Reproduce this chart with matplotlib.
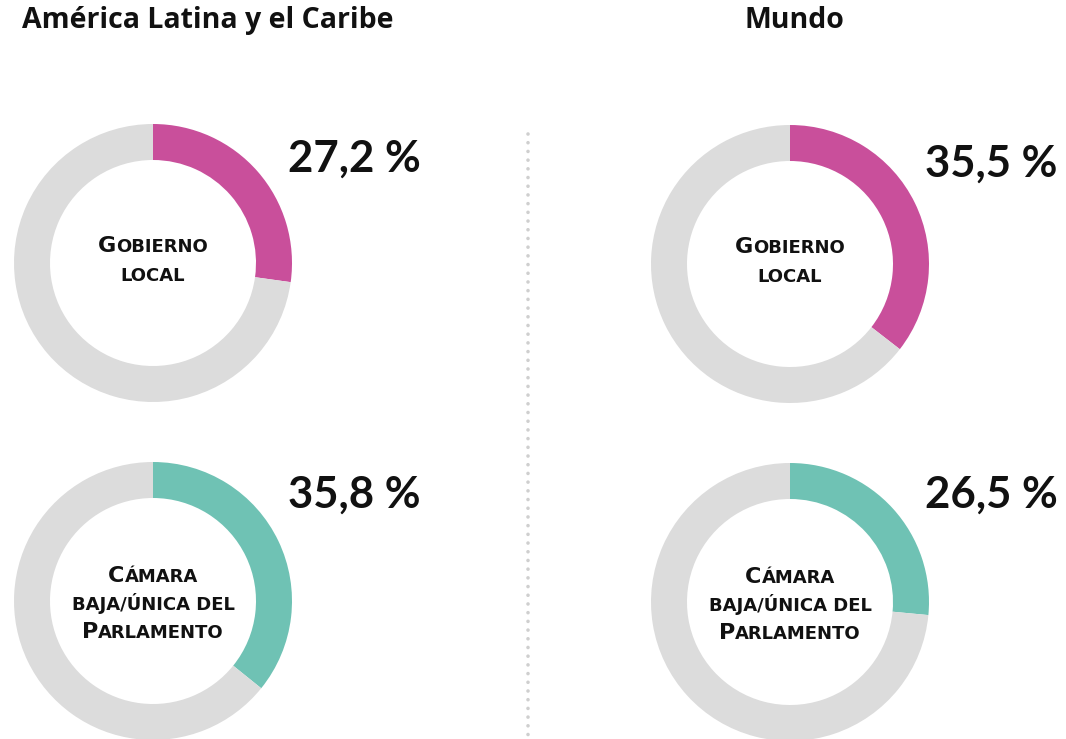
import matplotlib
matplotlib.use("Agg")
import matplotlib.pyplot as plt

W, H = 1066, 739

# data
regions = ["América Latina y el Caribe", "Mundo"]
categories = [["Gobierno", "local"], ["Cámara", "baja/única del", "Parlamento"]]
shares = [[27.2, 35.8], [35.5, 26.5]]     # % por region, por categoria
pct_labels = [["27,2 %", "35,8 %"], ["35,5 %", "26,5 %"]]
accent = ["#C94F9B", "#6FC2B4"]
grey = "#DCDCDC"

FONT = ["Lato", "DejaVu Sans"]
TITLE_FONT = ["Open Sans", "DejaVu Sans"]
LABEL_FONT = ["DejaVu Sans"]

fig = plt.figure(figsize=(W / 100, H / 100), dpi=100)
ax = fig.add_axes([0, 0, 1, 1])


def py(y):
    # pixel row (from top) -> data y
    return H - y


centers_x = [153, 790]
centers_y = [[263, 601], [264, 602]]
pct_pos = [[(288, 172), (288, 508)], [(925, 177), (925, 508)]]
label_offsets = {2: [-11, 18], 3: [-19, 9, 37]}

renderer = fig.canvas.get_renderer()


def small_caps(x, baseline, line, big=16, small=13):
    runs = []
    for ch in line:
        size = big if ch.isupper() else small
        if runs and runs[-1][1] == size:
            runs[-1][0] += ch.upper()
        else:
            runs.append([ch.upper(), size])
    texts = [ax.text(0, py(baseline), r, fontsize=s, fontweight="bold", family=LABEL_FONT,
                     va="baseline", ha="left", color="#111111") for r, s in runs]
    widths = [t.get_window_extent(renderer).width for t in texts]
    cur = x - sum(widths) / 2
    for t, w in zip(texts, widths):
        t.set_x(cur)
        cur += w


for i, region in enumerate(regions):
    for j, cat in enumerate(categories):
        cx, cy = centers_x[i], centers_y[i][j]
        v = shares[i][j]
        ax.pie([v, 100 - v], colors=[accent[j], grey], startangle=90, counterclock=False,
               center=(cx, py(cy)), radius=139, frame=True,
               wedgeprops=dict(width=36, edgecolor="none", linewidth=0))
        offs = label_offsets[len(cat)]
        for line, off in zip(cat, offs):
            small_caps(cx, cy + off, line)
        px, pyb = pct_pos[i][j]
        ax.text(px, py(pyb), pct_labels[i][j], fontsize=31.5, fontweight="bold", family=FONT,
                va="baseline", ha="left", color="#111111")

ax.text(22, py(28), regions[0], fontsize=20.5, fontweight="bold", family=TITLE_FONT,
        va="baseline", ha="left", color="#111111")
ax.text(794, py(28), regions[1], fontsize=20.5, fontweight="bold", family=TITLE_FONT,
        va="baseline", ha="center", color="#111111")

# dotted divider
ax.plot([528, 528], [py(134), py(737)], color="#CFCFCF", lw=2.6,
        linestyle=(0, (0.01, 2.4)), dash_capstyle="round")

ax.set_xlim(0, W)
ax.set_ylim(0, H)
ax.set_aspect("auto")
ax.axis("off")

fig.savefig("out.png", dpi=100, facecolor="white")
